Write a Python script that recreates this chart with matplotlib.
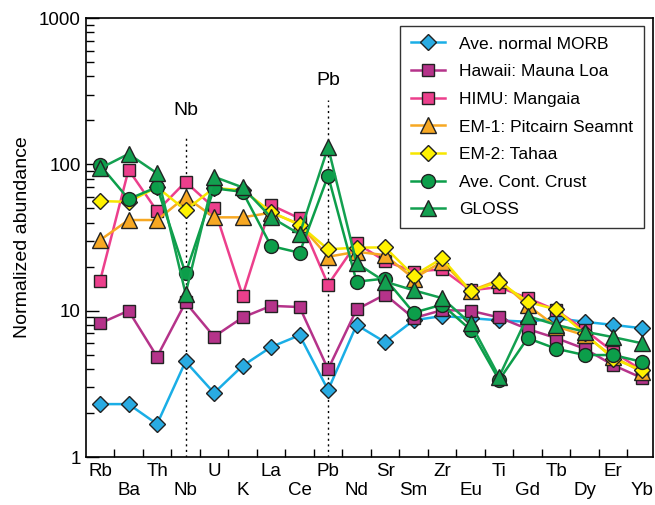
import numpy as np
import matplotlib.pyplot as plt
from matplotlib.ticker import LogLocator, NullFormatter, FixedLocator

plt.rcParams['font.family'] = ['Liberation Sans', 'DejaVu Sans']

elements = ["Rb", "Ba", "Th", "Nb", "U", "K", "La", "Ce", "Pb", "Nd",
            "Sr", "Sm", "Zr", "Eu", "Ti", "Gd", "Tb", "Dy", "Er", "Yb"]

morb = [2.3, 2.3, 1.68, 4.5, 2.74, 4.2, 5.65, 6.8, 2.87, 8.0,
        6.1, 8.6, 9.2, 8.9, 8.6, 8.4, 8.9, 8.4, 8.0, 7.6]
hawaii = [8.2, 10.0, 4.85, 11.4, 6.65, 9.0, 10.8, 10.6, 3.98, 10.2,
          12.9, 8.9, 10.1, 10.0, 9.0, 7.5, 6.5, 5.5, 4.25, 3.48]
himu = [16.0, 92, 48, 76, 50.6, 12.7, 52.8, 42.8, 15.1, 28.9,
        21.9, 18.5, 19.2, 13.8, 14.5, 12.2, 10.1, 7.4, 5.25, 3.93]
em1 = [30.4, 41.7, 41.7, 60, 43.5, 43.5, 46.8, 39.1, 23.4, 25.3,
       24.0, 16.6, 21.6, 13.7, 16.2, 10.9, 7.8, 6.8, 4.85, 3.83]
em2 = [56.2, 55.5, 70, 48.8, 69, 66.8, 47.5, 38.5, 26.3, 27.0,
       27.1, 17.4, 22.8, 13.6, 15.8, 11.5, 10.2, 7.0, 4.7, 3.93]
crust = [99, 58, 70, 18, 68.7, 65, 27.7, 24.9, 83.7, 15.8,
         16.6, 9.7, 11.0, 7.4, 3.36, 6.5, 5.5, 4.98, 4.98, 4.48]
gloss = [94, 118, 87, 13.1, 82.4, 69.7, 43.5, 33.4, 131, 21.1,
         15.8, 13.8, 12.2, 8.2, 3.54, 9.2, 8.0, 7.2, 6.6, 6.0]

series = [
    ("Ave. normal MORB", morb, "#1aaee6", "#29abe2", "D", 8.5),
    ("Hawaii: Mauna Loa", hawaii, "#b5338a", "#b5338a", "s", 9),
    ("HIMU: Mangaia", himu, "#ec3f8c", "#ec3f8c", "s", 9),
    ("EM-1: Pitcairn Seamnt", em1, "#f7a823", "#f7a823", "^", 11),
    ("EM-2: Tahaa", em2, "#f7e600", "#fff200", "D", 8.5),
    ("Ave. Cont. Crust", crust, "#0c9e4a", "#0c9e4a", "o", 10),
    ("GLOSS", gloss, "#13a050", "#13a050", "^", 11),
]

fig = plt.figure(figsize=(6.55, 5.05), dpi=100)
ax = fig.add_axes([0.131, 0.095, 0.866, 0.869])

x = np.arange(len(elements))

# dotted guide lines at Nb and Pb
ax.plot([3, 3], [1, 160], ls=(0, (1.5, 2.5)), color="black", lw=1, zorder=1)
ax.plot([8, 8], [1, 275], ls=(0, (1.5, 2.5)), color="black", lw=1, zorder=1)
ax.text(3, 235, "Nb", ha="center", va="center", fontsize=14)
ax.text(8, 375, "Pb", ha="center", va="center", fontsize=14)

for name, vals, lc, fc, mk, ms in series:
    ax.plot(x, vals, color=lc, lw=1.8, marker=mk, markersize=ms,
            markerfacecolor=fc, markeredgecolor="#222222", markeredgewidth=1.0,
            label=name, zorder=3)

ax.set_yscale("log")
ax.set_ylim(1, 1000)
ax.set_xlim(-0.5, 19.4)

ax.set_yticks([1, 10, 100, 1000])
ax.set_yticklabels(["1", "10", "100", "1000"])
ax.yaxis.set_minor_locator(LogLocator(base=10, subs=np.arange(2, 10)))
ax.yaxis.set_minor_formatter(NullFormatter())
ax.tick_params(axis="y", which="major", direction="in", length=9, width=1, labelsize=13.5)
ax.tick_params(axis="y", which="minor", direction="in", length=6, width=1)

ax.set_xticks(x)
ax.set_xticklabels([e if i % 2 == 0 else "\n" + e for i, e in enumerate(elements)])
ax.xaxis.set_minor_locator(FixedLocator(x[:-1] + 0.5))
ax.tick_params(axis="x", which="major", length=0, labelsize=13.5, pad=4)
ax.tick_params(axis="x", which="minor", direction="in", length=6, width=1)

ax.set_ylabel("Normalized abundance", fontsize=14, labelpad=6)
for s in ax.spines.values():
    s.set_linewidth(1.2)

leg = ax.legend(loc="upper right", fontsize=12.5, frameon=True, fancybox=False,
                edgecolor="black", handlelength=2.0, borderpad=0.6,
                labelspacing=0.72, bbox_to_anchor=(0.999, 1.002))
leg.get_frame().set_linewidth(1.0)

fig.savefig("out.png", dpi=100)
